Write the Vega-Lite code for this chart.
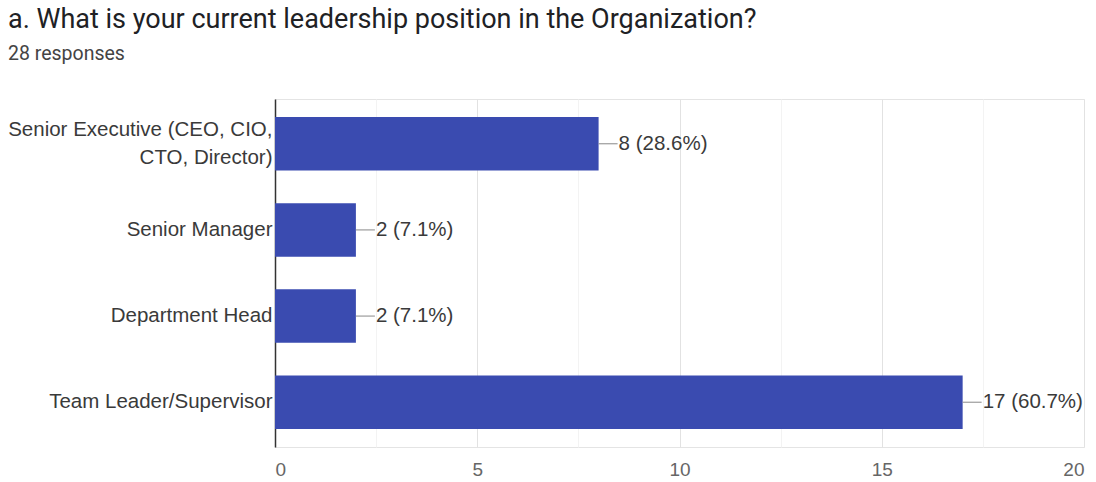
{
  "$schema": "https://vega.github.io/schema/vega-lite/v6.json",
  "width": 809,
  "height": 348,
  "autosize": {"type": "none"},
  "padding": {"left": 275, "top": 99, "right": 12, "bottom": 35},
  "background": "white",
  "title": {
    "text": "a. What is your current leadership position in the Organization?",
    "subtitle": "28 responses",
    "anchor": "start",
    "frame": "group",
    "dx": -267,
    "offset": 35,
    "font": "Roboto",
    "fontSize": 27,
    "fontWeight": "normal",
    "color": "#202124",
    "subtitleFont": "Roboto",
    "subtitleFontSize": 19.5,
    "subtitleColor": "#444444",
    "subtitlePadding": 11
  },
  "config": {
    "view": {"stroke": "#e4e4e4"},
    "font": "Liberation Sans"
  },
  "data": {
    "values": [
      {"position": "Senior Executive (CEO, CIO, CTO, Director)", "count": 8, "label": "8 (28.6%)"},
      {"position": "Senior Manager", "count": 2, "label": "2 (7.1%)"},
      {"position": "Department Head", "count": 2, "label": "2 (7.1%)"},
      {"position": "Team Leader/Supervisor", "count": 17, "label": "17 (60.7%)"}
    ]
  },
  "encoding": {
    "y": {
      "field": "position",
      "type": "nominal",
      "sort": null,
      "title": null,
      "scale": {"paddingInner": 0.38, "paddingOuter": 0.21},
      "axis": {
        "domainColor": "#333333",
        "domainWidth": 1.5,
        "ticks": false,
        "labelPadding": 3,
        "labelFont": "Liberation Sans",
        "labelFontSize": 20.5,
        "labelColor": "#3a3a3a",
        "labelLimit": 300,
        "labelLineHeight": 28,
        "labelOffset": {"condition": {"test": "datum.value == 'Senior Executive (CEO, CIO, CTO, Director)'", "value": -14}, "value": 0},
        "labelExpr": "datum.value == 'Senior Executive (CEO, CIO, CTO, Director)' ? ['Senior Executive (CEO, CIO,', 'CTO, Director)'] : datum.label"
      }
    }
  },
  "layer": [
    {
      "mark": {"type": "bar", "color": "#3a4bb0"},
      "encoding": {
        "x": {
          "field": "count",
          "type": "quantitative",
          "title": null,
          "scale": {"domain": [0, 20], "nice": false},
          "axis": {
            "values": [0, 2.5, 5, 7.5, 10, 12.5, 15, 17.5, 20],
            "labelExpr": "datum.value % 5 === 0 ? datum.label : ''",
            "grid": true,
            "gridColor": {"condition": {"test": "datum.value % 5 === 0", "value": "#e2e2e2"}, "value": "#f3f3f3"},
            "domain": false,
            "ticks": false,
            "labelPadding": 13,
            "labelFont": "Liberation Sans",
            "labelFontSize": 19,
            "labelColor": "#666666"
          }
        }
      }
    },
    {
      "mark": {"type": "rule", "color": "#888888", "strokeWidth": 1, "x2Offset": 19},
      "encoding": {
        "x": {"field": "count", "type": "quantitative"},
        "x2": {"field": "count"}
      }
    },
    {
      "mark": {"type": "text", "align": "left", "baseline": "middle", "dx": 20, "font": "Liberation Sans", "fontSize": 20.5, "color": "#3a3a3a"},
      "encoding": {
        "x": {"field": "count", "type": "quantitative"},
        "text": {"field": "label"}
      }
    }
  ]
}
